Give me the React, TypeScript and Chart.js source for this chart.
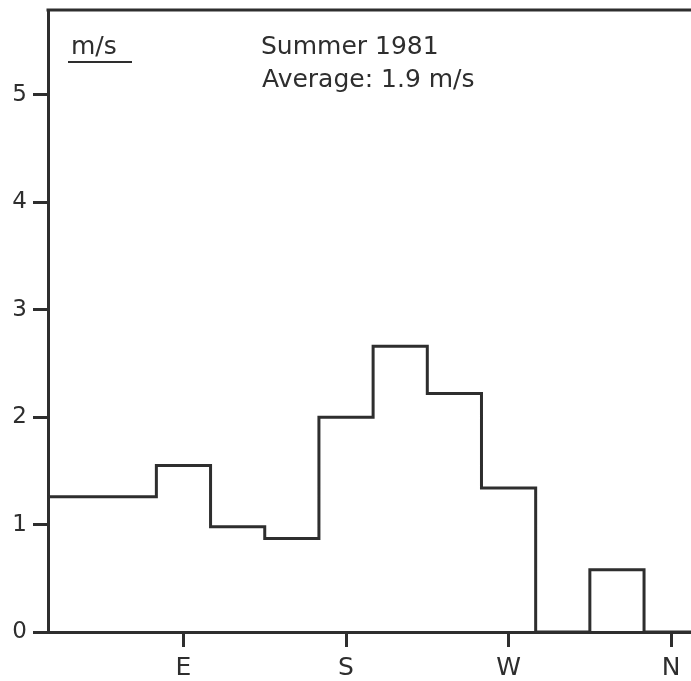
import { useEffect, useRef } from 'react';
import { Chart, registerables } from 'chart.js';

Chart.register(...registerables);

// Mean wind speed per 30° direction sector (centre of sector, degrees)
const sectorCenters = [30, 60, 90, 120, 150, 180, 210, 240, 270, 300, 330, 360];
const windSpeeds = [1.26, 1.26, 1.55, 0.98, 0.87, 2.0, 2.66, 2.22, 1.34, 0, 0.58, 0];
const sectorWidth = 30;

// Compass labels on the direction axis
const directionTicks = [90, 180, 270, 360];
const directionLabels = ['E', 'S', 'W', 'N'];

// Speed axis ticks
const speedTicks = [0, 1, 2, 3, 4, 5];

const unitLabel = 'm/s';
const titleLines = ['Summer 1981', 'Average: 1.9 m/s'];

const INK = '#2e2e2e';
const FONT = '"DejaVu Sans", sans-serif';

// Frame top edge plus the in-plot annotation text
const framePlugin = {
  id: 'frameAndNotes',
  afterDraw(chart: any) {
    const { ctx, chartArea } = chart;
    ctx.save();
    ctx.strokeStyle = INK;
    ctx.lineWidth = 3;
    ctx.beginPath();
    ctx.moveTo(chartArea.left - 1.5, chartArea.top);
    ctx.lineTo(chartArea.right, chartArea.top);
    ctx.stroke();

    ctx.fillStyle = INK;
    ctx.textBaseline = 'alphabetic';
    ctx.textAlign = 'left';
    ctx.font = `25px ${FONT}`;
    ctx.fillText(unitLabel, 71, 54);
    ctx.lineWidth = 2;
    ctx.beginPath();
    ctx.moveTo(68, 62);
    ctx.lineTo(132, 62);
    ctx.stroke();

    ctx.fillText(titleLines[0], 261, 54);
    ctx.fillText(titleLines[1], 262, 87);
    ctx.restore();
  },
};

export default function App() {
  const canvasRef = useRef<HTMLCanvasElement | null>(null);

  useEffect(() => {
    if (!canvasRef.current) return;
    const half = sectorWidth / 2;
    const points = sectorCenters.map((c, i) => ({ x: c - half, y: windSpeeds[i] }));
    points.push({
      x: sectorCenters[sectorCenters.length - 1] + half,
      y: windSpeeds[windSpeeds.length - 1],
    });

    const chart = new Chart(canvasRef.current, {
      type: 'line',
      data: {
        datasets: [
          {
            data: points,
            stepped: 'before',
            borderColor: INK,
            borderWidth: 3,
            pointRadius: 0,
            fill: false,
          },
        ],
      },
      options: {
        responsive: false,
        animation: false,
        devicePixelRatio: 1,
        layout: { autoPadding: false, padding: { top: 10, right: 0, bottom: 0, left: 0 } },
        plugins: {
          legend: { display: false },
          tooltip: { enabled: false },
        },
        scales: {
          x: {
            type: 'linear',
            min: 15,
            max: 371,
            afterBuildTicks: (s: any) => {
              s.ticks = directionTicks.map((v) => ({ value: v }));
            },
            afterFit: (s: any) => {
              s.height = 49;
              s.paddingLeft = 0;
              s.paddingRight = 0;
            },
            ticks: {
              color: INK,
              padding: 6,
              maxRotation: 0,
              autoSkip: false,
              font: { family: FONT, size: 25 },
              callback: (v: any) => directionLabels[directionTicks.indexOf(Number(v))] ?? '',
            },
            grid: {
              drawOnChartArea: false,
              drawTicks: true,
              tickLength: 15,
              lineWidth: 3,
              color: INK,
            },
            border: { display: true, color: INK, width: 3 },
          },
          y: {
            min: 0,
            max: 5.79,
            afterBuildTicks: (s: any) => {
              s.ticks = speedTicks.map((v) => ({ value: v }));
            },
            afterFit: (s: any) => {
              s.width = 48;
              s.paddingTop = 0;
              s.paddingBottom = 0;
            },
            ticks: {
              color: INK,
              padding: 6,
              font: { family: FONT, size: 23 },
            },
            grid: {
              drawOnChartArea: false,
              drawTicks: true,
              tickLength: 15,
              lineWidth: 3,
              color: INK,
            },
            border: { display: true, color: INK, width: 3 },
          },
        },
      },
      plugins: [framePlugin],
    });
    return () => chart.destroy();
  }, []);

  return (
    <div style={{ position: 'fixed', left: 0, top: 0, width: 691, height: 681, background: '#fff' }}>
      <canvas ref={canvasRef} width={691} height={681} style={{ display: 'block' }} />
    </div>
  );
}
